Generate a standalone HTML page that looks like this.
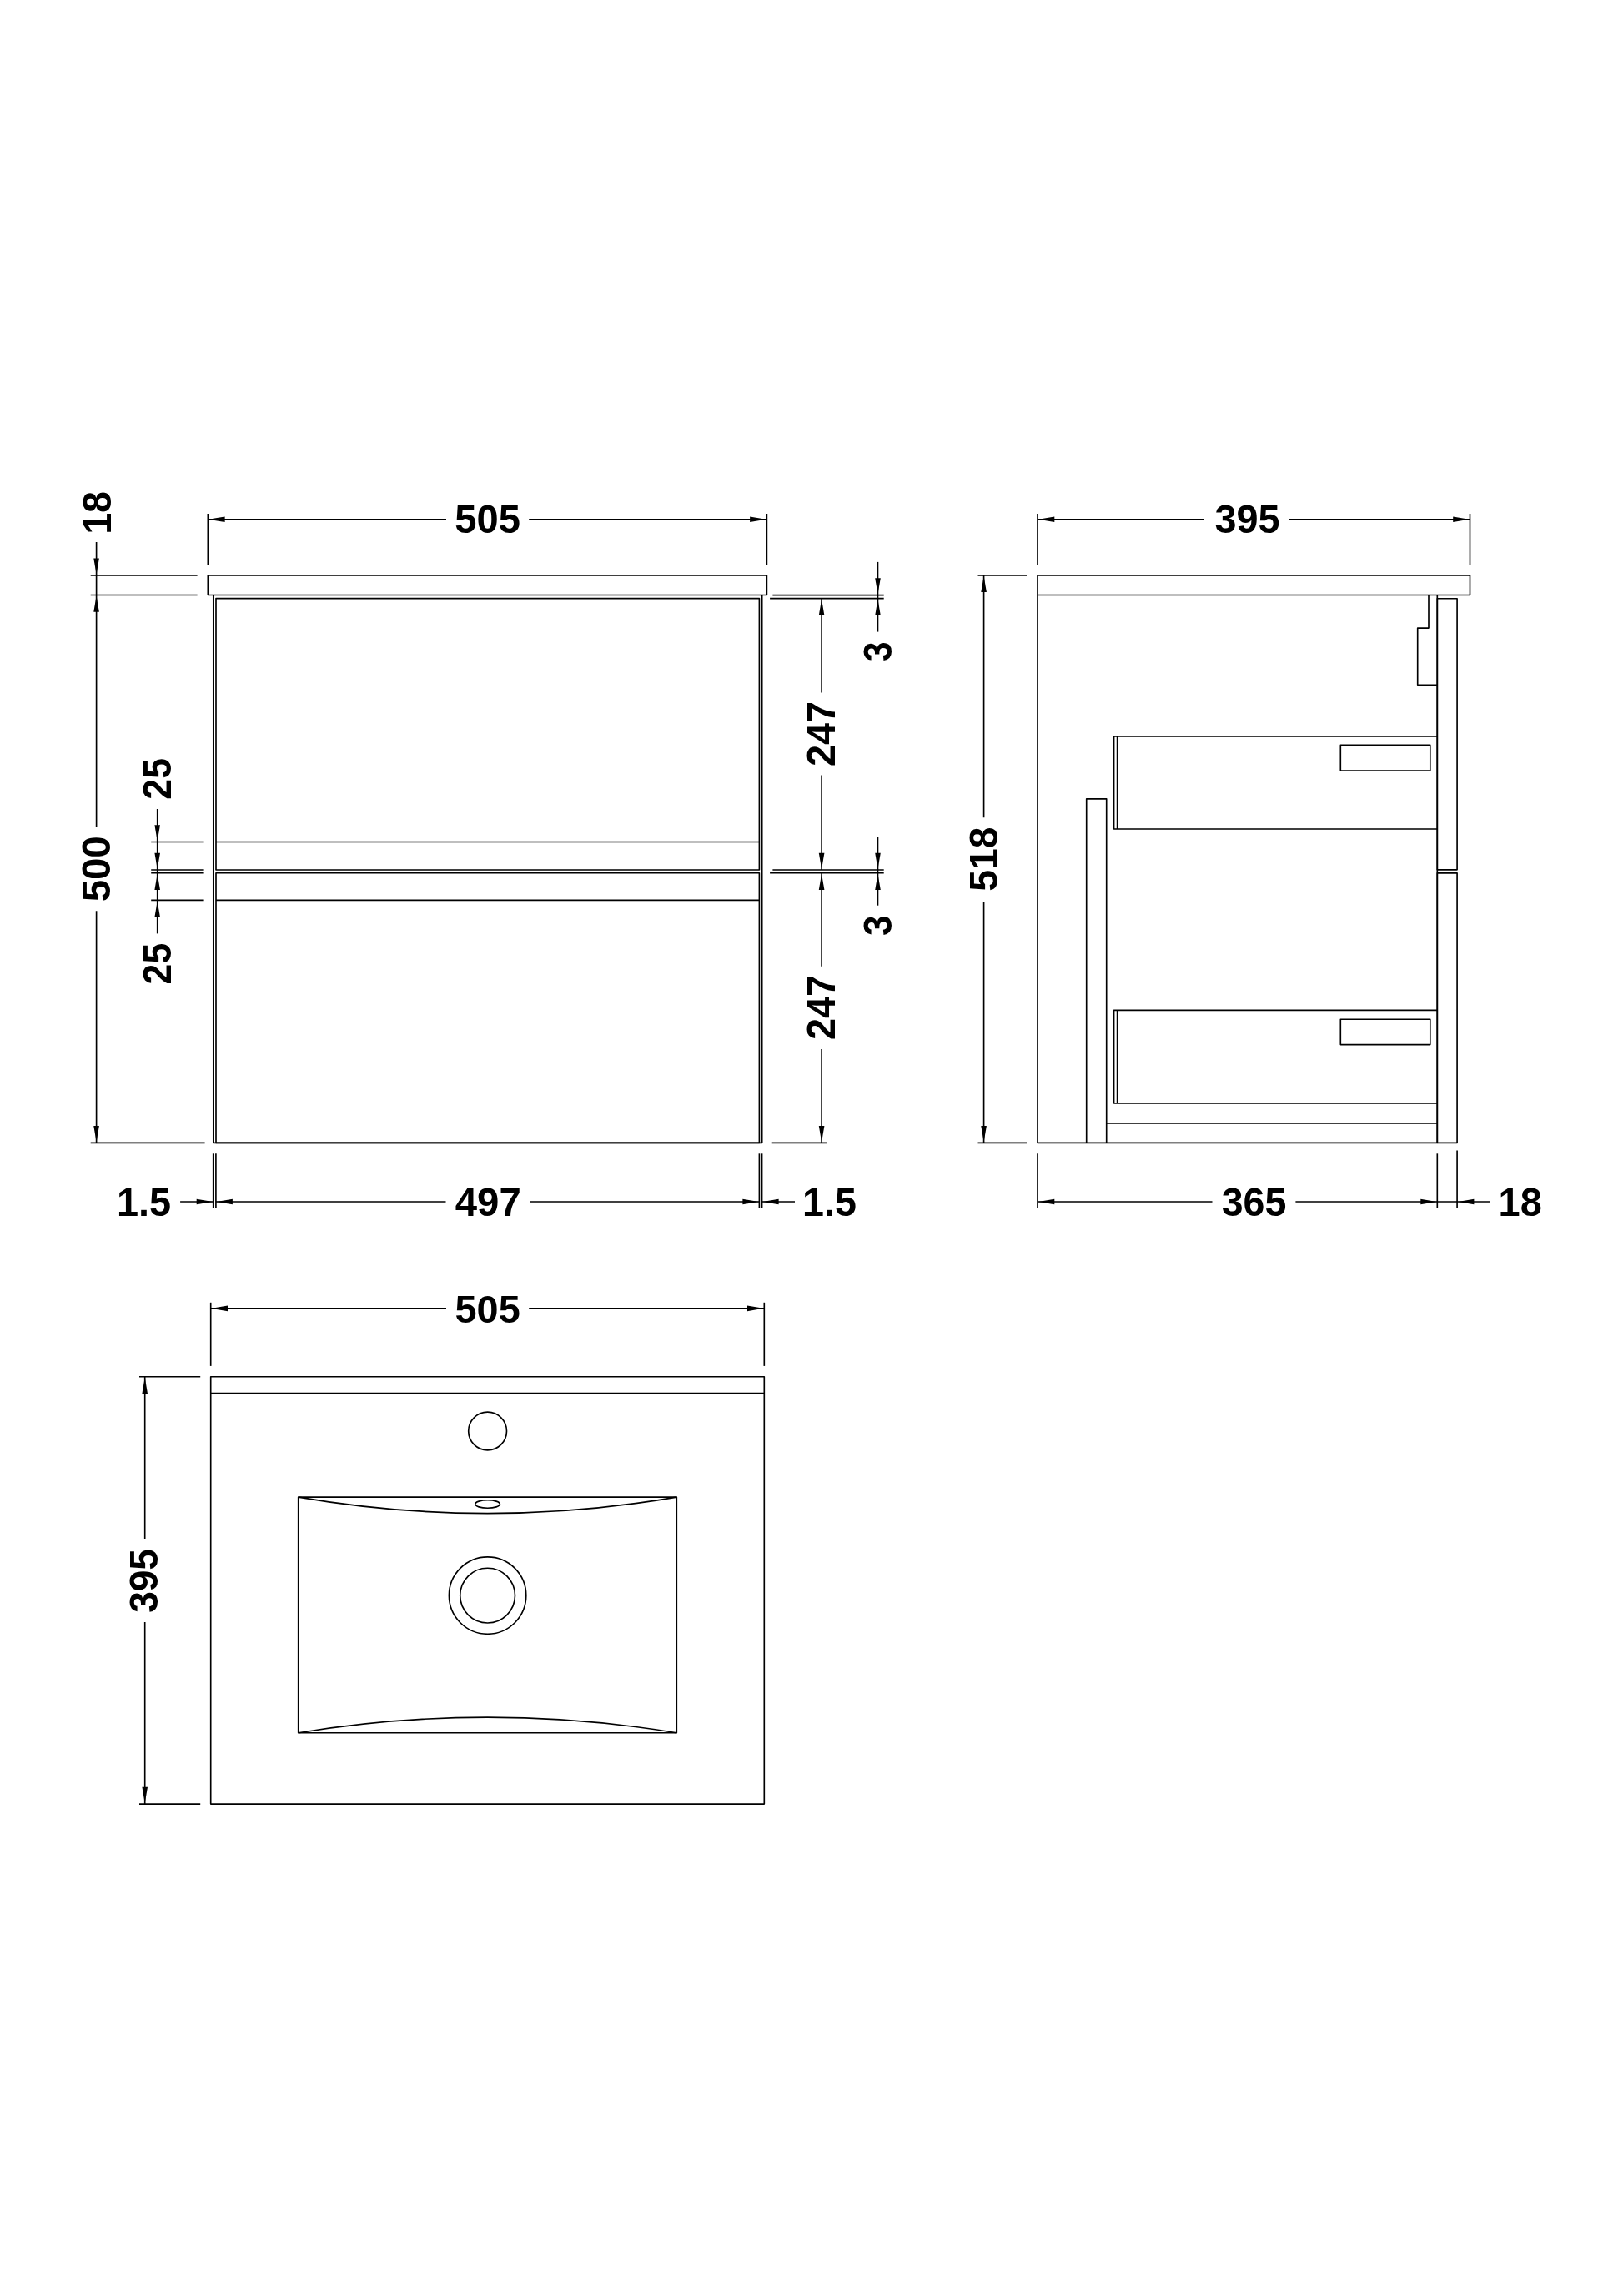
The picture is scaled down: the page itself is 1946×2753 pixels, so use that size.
<!DOCTYPE html>
<html><head><meta charset="utf-8"><title>Technical drawing</title>
<style>
html,body{margin:0;padding:0;background:#fff}
svg{display:block;filter:grayscale(1)}
svg path,svg rect,svg circle,svg ellipse{fill:none;stroke:#000;stroke-width:1.65;stroke-linecap:butt;stroke-linejoin:round}
svg .a{fill:#000;stroke:none}
svg text{font-family:"Liberation Sans",sans-serif;font-weight:700;font-size:47.2px;fill:#000}
</style></head><body>
<svg width="1946" height="2753" viewBox="0 0 1946 2753">
<rect x="0" y="0" width="1946" height="2753" style="fill:#fff;stroke:none"/>
<rect x="249.30" y="689.80" width="670.10" height="23.70"/>
<path d="M255.8 713.5V1370.4H913.7V713.5"/>
<rect x="259.00" y="717.60" width="651.40" height="325.40"/>
<rect x="259.00" y="1046.70" width="651.40" height="323.70"/>
<path d="M259.00 1009.50L910.40 1009.50"/>
<path d="M259.00 1079.40L910.40 1079.40"/>
<path d="M249.30 616.00L249.30 677.50"/>
<path d="M919.40 616.00L919.40 677.50"/>
<path d="M249.30 622.75L535.00 622.75"/>
<path d="M634.20 622.75L919.40 622.75"/>
<polygon class="a" points="250.30,622.75 269.60,619.45 269.60,626.05"/>
<polygon class="a" points="918.40,622.75 899.10,619.45 899.10,626.05"/>
<text transform="translate(545.34 638.83) scale(0.9981 1.0025)">505</text>
<path d="M108.70 689.80L236.60 689.80"/>
<path d="M108.70 713.50L236.60 713.50"/>
<path d="M108.70 1370.40L245.60 1370.40"/>
<path d="M115.60 650.00L115.60 991.90"/>
<path d="M115.60 1092.30L115.60 1370.40"/>
<polygon class="a" points="115.60,688.80 112.30,669.50 118.90,669.50"/>
<polygon class="a" points="115.60,714.50 112.30,733.80 118.90,733.80"/>
<polygon class="a" points="115.60,1369.40 112.30,1350.10 118.90,1350.10"/>
<text transform="translate(132.72 640.84) rotate(-90) scale(0.9886 1.0264)">18</text>
<text transform="translate(132.42 1081.37) rotate(-90) scale(1.0036 1.0114)">500</text>
<path d="M181.20 1009.50L243.60 1009.50"/>
<path d="M181.20 1043.00L243.60 1043.00"/>
<path d="M181.20 1046.70L243.60 1046.70"/>
<path d="M181.20 1079.40L243.60 1079.40"/>
<path d="M188.70 970.00L188.70 1119.40"/>
<polygon class="a" points="188.70,1008.50 185.40,989.20 192.00,989.20"/>
<polygon class="a" points="188.70,1042.00 185.40,1022.70 192.00,1022.70"/>
<polygon class="a" points="188.70,1047.70 185.40,1067.00 192.00,1067.00"/>
<polygon class="a" points="188.70,1080.40 185.40,1099.70 192.00,1099.70"/>
<text transform="translate(204.93 958.66) rotate(-90) scale(0.9472 0.9995)">25</text>
<text transform="translate(204.93 1180.46) rotate(-90) scale(0.9472 0.9995)">25</text>
<path d="M926.40 713.60L1059.70 713.60"/>
<path d="M923.10 717.60L1059.70 717.60"/>
<path d="M926.40 1043.00L1059.70 1043.00"/>
<path d="M923.10 1046.70L1059.70 1046.70"/>
<path d="M925.70 1370.40L991.50 1370.40"/>
<path d="M985.10 717.60L985.10 830.50"/>
<path d="M985.10 929.50L985.10 1043.00"/>
<polygon class="a" points="985.10,718.60 981.80,737.90 988.40,737.90"/>
<polygon class="a" points="985.10,1042.00 981.80,1022.70 988.40,1022.70"/>
<text transform="translate(1000.90 918.94) rotate(-90) scale(0.9907 1.0047)">247</text>
<path d="M985.10 1046.70L985.10 1158.70"/>
<path d="M985.10 1258.00L985.10 1370.40"/>
<polygon class="a" points="985.10,1047.70 981.80,1067.00 988.40,1067.00"/>
<polygon class="a" points="985.10,1369.40 981.80,1350.10 988.40,1350.10"/>
<text transform="translate(1000.90 1246.94) rotate(-90) scale(0.9907 1.0047)">247</text>
<path d="M1052.50 673.90L1052.50 757.60"/>
<polygon class="a" points="1052.50,712.60 1049.20,693.30 1055.80,693.30"/>
<polygon class="a" points="1052.50,718.60 1049.20,737.90 1055.80,737.90"/>
<text transform="translate(1069.18 792.98) rotate(-90) scale(0.8995 1.0100)">3</text>
<path d="M1052.50 1003.00L1052.50 1085.70"/>
<polygon class="a" points="1052.50,1042.00 1049.20,1022.70 1055.80,1022.70"/>
<polygon class="a" points="1052.50,1047.70 1049.20,1067.00 1055.80,1067.00"/>
<text transform="translate(1069.18 1122.02) rotate(-90) scale(0.9378 1.0100)">3</text>
<path d="M255.70 1383.30L255.70 1448.00"/>
<path d="M258.90 1383.30L258.90 1448.00"/>
<path d="M910.40 1383.30L910.40 1448.00"/>
<path d="M913.60 1383.30L913.60 1448.00"/>
<path d="M216.10 1441.00L255.70 1441.00"/>
<polygon class="a" points="255.00,1441.00 235.70,1437.70 235.70,1444.30"/>
<path d="M258.90 1441.00L534.50 1441.00"/>
<polygon class="a" points="259.60,1441.00 278.90,1437.70 278.90,1444.30"/>
<path d="M635.20 1441.00L910.40 1441.00"/>
<polygon class="a" points="909.70,1441.00 890.40,1437.70 890.40,1444.30"/>
<polygon class="a" points="914.30,1441.00 933.60,1437.70 933.60,1444.30"/>
<path d="M913.60 1441.00L953.00 1441.00"/>
<text transform="translate(139.95 1457.62) scale(0.9933 1.0229)">1.5</text>
<text transform="translate(545.79 1457.62) scale(1.0034 1.0085)">497</text>
<text transform="translate(962.06 1457.62) scale(0.9884 1.0229)">1.5</text>
<rect x="1244.00" y="689.80" width="518.50" height="23.70"/>
<path d="M1244.0 713.5V1370.4H1723.3"/>
<path d="M1302.7 1370.4V957.8H1326.7V1370.4"/>
<path d="M1326.70 1347.00L1723.30 1347.00"/>
<path d="M1723.30 713.50L1723.30 1370.40"/>
<rect x="1723.30" y="717.70" width="23.80" height="325.10"/>
<rect x="1723.30" y="1046.80" width="23.80" height="323.60"/>
<path d="M1713.0 713.5V753.1H1699.7V821.2H1723.3"/>
<path d="M1723.3 882.8H1335.6V994.0H1723.3"/>
<path d="M1339.60 882.80L1339.60 994.00"/>
<path d="M1723.3 1211.4H1335.6V1322.8H1723.3"/>
<path d="M1339.60 1211.40L1339.60 1322.80"/>
<rect x="1607.30" y="893.40" width="107.50" height="30.70"/>
<rect x="1607.30" y="1222.20" width="107.50" height="30.40"/>
<path d="M1244.00 616.00L1244.00 677.50"/>
<path d="M1762.50 616.00L1762.50 677.50"/>
<path d="M1244.00 622.75L1444.00 622.75"/>
<path d="M1545.00 622.75L1762.50 622.75"/>
<polygon class="a" points="1245.00,622.75 1264.30,619.45 1264.30,626.05"/>
<polygon class="a" points="1761.50,622.75 1742.20,619.45 1742.20,626.05"/>
<text transform="translate(1456.52 638.78) scale(0.9918 1.0011)">395</text>
<path d="M1172.50 689.80L1231.00 689.80"/>
<path d="M1172.50 1370.40L1231.00 1370.40"/>
<path d="M1179.60 689.80L1179.60 980.30"/>
<path d="M1179.60 1081.00L1179.60 1370.40"/>
<polygon class="a" points="1179.60,690.80 1176.30,710.10 1182.90,710.10"/>
<polygon class="a" points="1179.60,1369.40 1176.30,1350.10 1182.90,1350.10"/>
<text transform="translate(1195.53 1068.84) rotate(-90) scale(0.9815 1.0055)">518</text>
<path d="M1244.00 1383.30L1244.00 1448.00"/>
<path d="M1723.30 1383.30L1723.30 1448.00"/>
<path d="M1747.10 1379.60L1747.10 1448.00"/>
<path d="M1244.00 1441.00L1453.50 1441.00"/>
<path d="M1553.40 1441.00L1723.30 1441.00"/>
<polygon class="a" points="1245.00,1441.00 1264.30,1437.70 1264.30,1444.30"/>
<polygon class="a" points="1722.60,1441.00 1703.30,1437.70 1703.30,1444.30"/>
<path d="M1723.30 1441.00L1786.60 1441.00"/>
<polygon class="a" points="1748.10,1441.00 1767.40,1437.70 1767.40,1444.30"/>
<text transform="translate(1464.73 1457.58) scale(0.9853 1.0070)">365</text>
<text transform="translate(1796.54 1457.62) scale(0.9948 1.0085)">18</text>
<rect x="252.70" y="1650.70" width="663.60" height="512.40"/>
<path d="M252.70 1670.50L916.30 1670.50"/>
<circle cx="584.6" cy="1716.0" r="22.9"/>
<circle cx="584.6" cy="1913.1" r="46.2"/>
<circle cx="584.6" cy="1913.1" r="32.9"/>
<ellipse cx="584.6" cy="1803.5" rx="14.8" ry="4.8"/>
<rect x="357.70" y="1795.10" width="453.60" height="282.60"/>
<path d="M357.7 1795.1Q584.6 1834 811.3 1795.1"/>
<path d="M357.7 2077.7Q584.6 2040.6 811.3 2077.7"/>
<path d="M252.70 1561.80L252.70 1637.90"/>
<path d="M916.30 1561.80L916.30 1637.90"/>
<path d="M252.70 1568.85L535.00 1568.85"/>
<path d="M634.20 1568.85L916.30 1568.85"/>
<polygon class="a" points="253.70,1568.85 273.00,1565.55 273.00,1572.15"/>
<polygon class="a" points="915.30,1568.85 896.00,1565.55 896.00,1572.15"/>
<text transform="translate(545.55 1585.53) scale(0.9928 0.9995)">505</text>
<path d="M167.00 1650.70L240.20 1650.70"/>
<path d="M167.00 2163.10L240.20 2163.10"/>
<path d="M173.70 1650.70L173.70 1845.00"/>
<path d="M173.70 1945.00L173.70 2163.10"/>
<polygon class="a" points="173.70,1651.70 170.40,1671.00 177.00,1671.00"/>
<polygon class="a" points="173.70,2162.10 170.40,2142.80 177.00,2142.80"/>
<text transform="translate(189.38 1933.86) rotate(-90) scale(0.9761 1.0040)">395</text>
</svg>
</body></html>
